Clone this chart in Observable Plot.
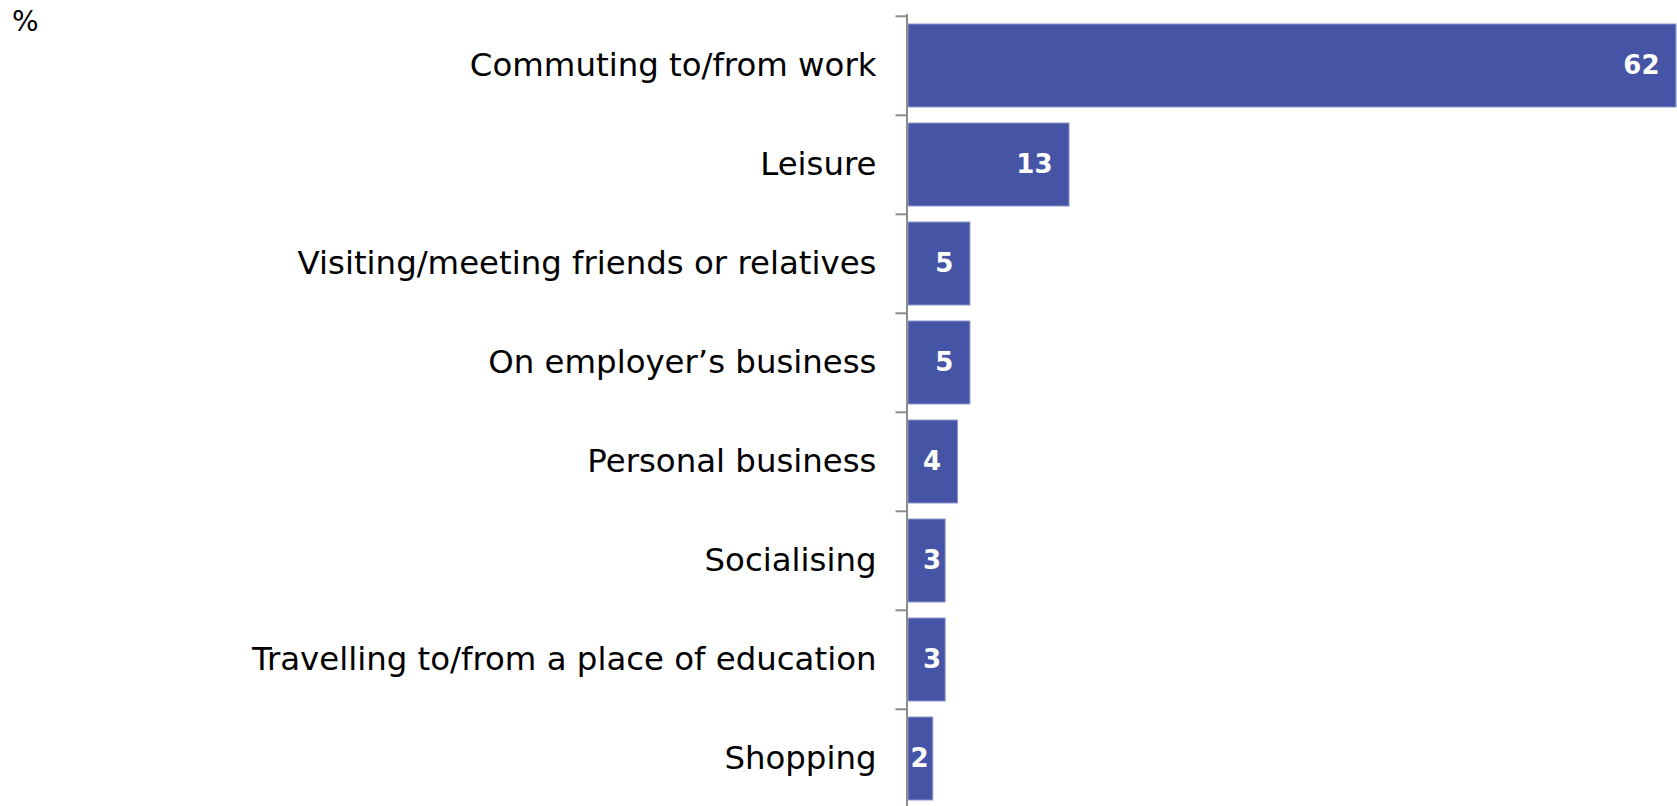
<!DOCTYPE html>
<html>
<head>
<meta charset="utf-8">
<script src="https://cdn.jsdelivr.net/npm/d3@7"></script>
<script src="https://cdn.jsdelivr.net/npm/@observablehq/plot@0.6"></script>
<style>
  html, body { margin: 0; padding: 0; background: #fff; }
  #wrap { position: relative; width: 1677px; height: 806px; overflow: hidden; }
  #unit { position: absolute; left: 12px; top: 5px; font-family: "DejaVu Sans", sans-serif; font-size: 28px; color: #000; }
</style>
</head>
<body>
<div id="wrap"><div id="unit">%</div></div>
<script>
const categories = [
  "Commuting to/from work",
  "Leisure",
  "Visiting/meeting friends or relatives",
  "On employer\u2019s business",
  "Personal business",
  "Socialising",
  "Travelling to/from a place of education",
  "Shopping"
];
const values = [62, 13, 5, 5, 4, 3, 3, 2];

const data = categories.map((c, i) => ({category: c, value: values[i]}));

const W = 1677, H = 806;
const mLeft = 908, mRight = 1, mTop = 14;
const yRange = [14, 809.2];
const step = (yRange[1] - yRange[0]) / categories.length;
const pxPerUnit = (W - mLeft - mRight) / 62;

const chart = Plot.plot({
  width: W,
  height: H,
  marginLeft: mLeft,
  marginRight: mRight,
  marginTop: mTop,
  marginBottom: 0,
  style: {fontFamily: "DejaVu Sans, sans-serif", background: "#fff", color: "#000"},
  x: {domain: [0, 62], axis: null},
  y: {domain: categories, range: yRange, paddingInner: 0.165, paddingOuter: 0.0825, label: null},
  marks: [
    Plot.barX(data, {x: "value", y: "category", fill: "#4654a5", stroke: "#8e97cc", strokeWidth: 1}),
    Plot.ruleX([0], {stroke: "#8c8c8c", strokeWidth: 2, dx: -1.5}),
    Plot.ruleY(categories, {y: d => d, x1: -11 / pxPerUnit, x2: 0, dx: -1.5, dy: -step / 2, stroke: "#8c8c8c", strokeWidth: 2}),
    Plot.axisY({tickSize: 0, tickPadding: 32, fontSize: 32.4, label: null, fill: "#000"}),
    Plot.text(data, {
      x: d => Math.max(d.value, Math.min(4, d.value + 1)),
      y: "category",
      text: d => String(d.value),
      textAnchor: "end",
      dx: -17,
      fill: "#fff",
      fontWeight: "bold",
      fontSize: 26
    })
  ]
});
document.getElementById("wrap").appendChild(chart);
</script>
</body>
</html>
